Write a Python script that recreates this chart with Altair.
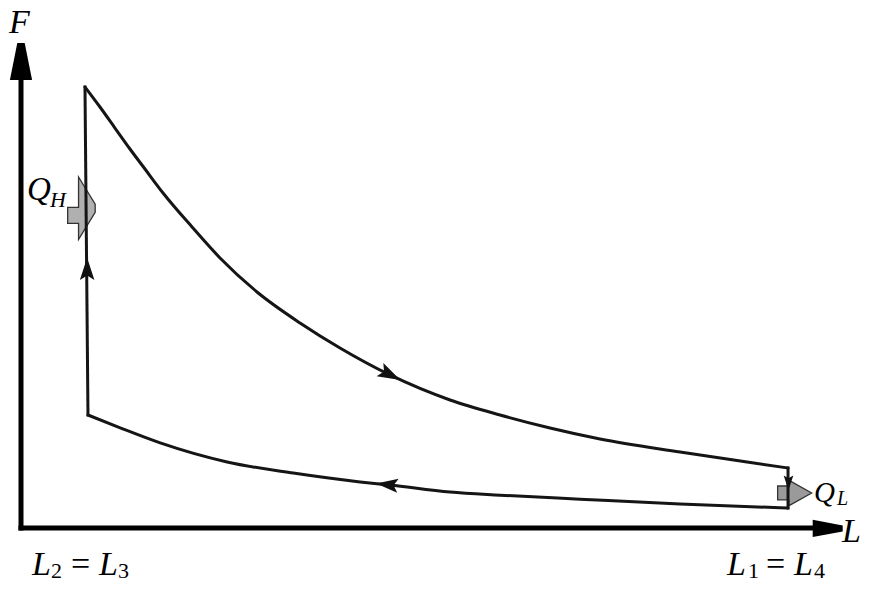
import altair as alt
import pandas as pd

# ---- data (L: length, F: force; arbitrary units) ----
# upper curve (expansion), from L2 to L1
top_L = [8.32, 10.27, 12.22, 14.17, 16.12, 18.47, 22.24, 25.88, 30.69, 36.28, 41.48, 47.98,
         55.79, 62.29, 68.79, 75.29, 85.70, 94.41, 99.74]
top_F = [99.55, 95.03, 90.29, 85.55, 81.04, 75.62, 67.95, 60.95, 53.27, 46.28, 40.63, 34.54,
         28.89, 25.51, 22.57, 20.09, 17.16, 14.90, 13.54]
# lower curve (compression), from L2 to L1
bot_L = [8.71, 12.9, 18.1, 26.8, 35.4, 44.1, 48.0, 55.8, 62.3, 72.7, 85.7, 99.74]
bot_F = [25.5, 22.6, 19.2, 14.9, 12.4, 10.4, 9.7, 8.1, 7.4, 6.5, 5.4, 4.5]

# direction arrowheads on the cycle
dir_L = [48.0, 47.6, 8.6, 99.8]
dir_F = [34.6, 9.8, 58.5, 10.2]
dir_angle = [27, 186, 270, 90]
dir_size = [520, 480, 500, 220]

# heat-flow block arrows
heat_L = [7.9, 100.6]
heat_F = [72.0, 7.9]

# axis extents
axis_L_max = 103.3
axis_F_max = 101.0

# ---- scales: plot area covers the whole canvas ----
X_DOM = [-1.69, 112.48]
Y_DOM = [-12.42, 117.38]
xs = alt.Scale(domain=X_DOM, nice=False, zero=False)
ys = alt.Scale(domain=Y_DOM, nice=False, zero=False)
X = alt.X("L:Q", scale=xs, axis=None)
Y = alt.Y("F:Q", scale=ys, axis=None)


def pt(L, F):
    return pd.DataFrame({"L": [L], "F": [F]})


INK = "#151515"

# curved branches of the cycle
curves = pd.concat([
    pd.DataFrame({"L": top_L, "F": top_F, "seg": "top"}),
    pd.DataFrame({"L": bot_L, "F": bot_F, "seg": "bottom"}),
])
curve_line = alt.Chart(curves).mark_line(
    color=INK, strokeWidth=3, interpolate="monotone", strokeCap="round"
).encode(x=X, y=Y, detail="seg:N", order="L:Q")

# straight branches (constant length)
verts = pd.DataFrame({
    "L": [bot_L[0], top_L[-1]], "F": [bot_F[0], bot_F[-1]],
    "L2": [top_L[0], top_L[-1]], "F2": [top_F[0], top_F[-1]],
})
vert_line = alt.Chart(verts).mark_rule(color=INK, strokeWidth=3, strokeCap="square").encode(
    x=X, y=Y, x2="L2:Q", y2="F2:Q"
)

# axes
axes_df = pd.DataFrame({
    "L": [0, 0], "L2": [0, axis_L_max], "F": [0, 0], "F2": [axis_F_max, 0]
})
axes_rule = alt.Chart(axes_df).mark_rule(color="black", strokeWidth=5, strokeCap="square").encode(
    x=X, x2="L2:Q", y=Y, y2="F2:Q",
)

# axis arrowheads
up_head = "M -0.2 -1 L 0.2 -1 L 0.6 1 L -0.6 1 Z"
right_head = "M 1 -0.2 L 1 0.2 L -1 0.57 L -1 -0.57 Z"
yhead = alt.Chart(pt(0.0, 105.3)).mark_point(
    shape=up_head, filled=True, color="black", opacity=1, size=1369
).encode(x=X, y=Y)
xhead = alt.Chart(pt(104.9, -0.1)).mark_point(
    shape=right_head, filled=True, color="black", opacity=1, size=900
).encode(x=X, y=Y)

# direction arrowheads
arrow_path = "M 1 0 L -1 -0.65 L -0.6 0 L -1 0.65 Z"
dir_layers = [
    alt.Chart(pt(dir_L[i], dir_F[i])).mark_point(
        shape=arrow_path, filled=True, color="#111", opacity=1,
        size=dir_size[i], angle=dir_angle[i]
    ).encode(x=X, y=Y)
    for i in range(len(dir_L))
]

# heat arrows
qh_path = "M -0.44 -0.05 L -0.1 -0.05 L -0.1 -1 L 0.42 -0.15 L 0.42 0.1 L -0.1 0.95 L -0.1 0.45 L -0.44 0.45 Z"
ql_path = "M -1 -0.41 L -0.35 -0.41 L -0.35 -0.76 L 1 0 L -0.35 0.76 L -0.35 0.41 L -1 0.41 Z"
qh = alt.Chart(pt(heat_L[0], heat_F[0])).mark_point(
    shape=qh_path, filled=True, fill="#b0b0b0", stroke="#333", strokeWidth=1.3, opacity=1, size=4096
).encode(x=X, y=Y)
ql = alt.Chart(pt(heat_L[1], heat_F[1])).mark_point(
    shape=ql_path, filled=True, fill="#9a9a9a", stroke="#333", strokeWidth=1.3, opacity=1, size=1156
).encode(x=X, y=Y)

# labels: (text, L, F, font size, italic)
BASE = -10.61   # main baseline of the bottom labels (px 575)
SUB = -11.29    # subscript baseline (px 578)
labels = [
    ("F", -1.56, 111.74, 34, True),
    ("L", 106.76, -3.16, 34, True),
    ("Q", 0.78, 74.04, 33, True),
    ("H", 3.77, 72.46, 22, True),
    ("Q", 103.12, 5.87, 29, True),
    ("L", 106.11, 5.19, 20, True),
    ("L", 1.43, BASE, 34, True),
    ("2", 3.90, SUB, 22, False),
    ("=", 6.50, BASE, 34, False),
    ("L", 10.14, BASE, 34, True),
    ("3", 12.61, SUB, 22, False),
    ("L", 91.81, BASE, 34, True),
    ("1", 94.54, SUB, 22, False),
    ("=", 96.88, BASE, 34, False),
    ("L", 100.52, BASE, 34, True),
    ("4", 103.12, SUB, 22, False),
]
text_layers = []
for t, lx, fy, s, it in labels:
    kw = dict(font="Liberation Serif", align="left", baseline="alphabetic",
              color="black", fontSize=s, text=t)
    if it:
        kw["fontStyle"] = "italic"
    text_layers.append(alt.Chart(pt(lx, fy)).mark_text(**kw).encode(x=X, y=Y))

chart = alt.layer(
    axes_rule, yhead, xhead, qh, ql, curve_line, vert_line, *dir_layers, *text_layers
).properties(
    width=878, height=575, padding=0, autosize=alt.AutoSizeParams(type="none")
).configure_view(stroke=None)

chart.save("out.html", embed_options={"renderer": "svg", "actions": False})
